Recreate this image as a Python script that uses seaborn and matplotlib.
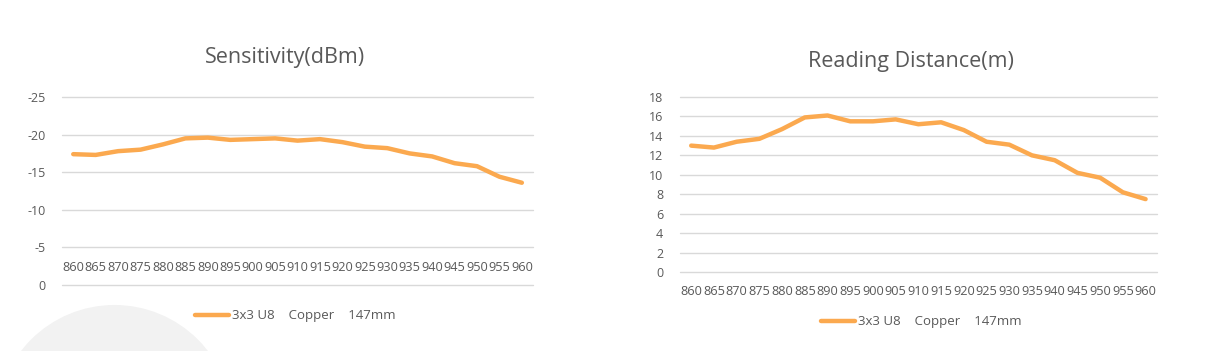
import numpy as np
import pandas as pd
import matplotlib
import matplotlib.pyplot as plt
import seaborn as sns
from matplotlib.patches import Ellipse

freq = ['860', '865', '870', '875', '880', '885', '890', '895', '900', '905', '910',
        '915', '920', '925', '930', '935', '940', '945', '950', '955', '960']
sensitivity = [-17.4, -17.3, -17.8, -18.0, -18.7, -19.5, -19.6, -19.3, -19.4, -19.5, -19.2,
               -19.4, -19.0, -18.4, -18.2, -17.5, -17.1, -16.2, -15.8, -14.4, -13.6]
distance = [13.0, 12.8, 13.4, 13.7, 14.7, 15.9, 16.1, 15.5, 15.5, 15.7, 15.2,
            15.4, 14.6, 13.4, 13.1, 12.0, 11.5, 10.2, 9.7, 8.2, 7.5]
series_name = '3x3 U8    Copper    147mm'

sns.set_style('white')
plt.rcParams['font.family'] = ['Open Sans', 'DejaVu Sans']
plt.rcParams['axes.unicode_minus'] = False

line_color = '#FBA94F'
text_color = '#595959'
grid_color = '#D9D9D9'

df = pd.DataFrame({'freq': freq, 'sens': sensitivity, 'dist': distance})

fig = plt.figure(figsize=(12.14, 3.51), dpi=100)

# faint decorative circle in the bottom-left corner
fig.patches.append(Ellipse((0.0943, -0.205), 2 * 118 / 1214, 2 * 118 / 351,
                           transform=fig.transFigure, facecolor='#F2F2F2',
                           edgecolor='none', zorder=0))

ax1 = fig.add_axes([0.0511, 0.188, 0.388, 0.5356])
ax2 = fig.add_axes([0.560, 0.225, 0.393, 0.4986])

sns.lineplot(data=df, x='freq', y='sens', ax=ax1, color=line_color, lw=3.2,
             sort=False, label=series_name)
sns.lineplot(data=df, x='freq', y='dist', ax=ax2, color=line_color, lw=3.2,
             sort=False, label=series_name)

ax1.set_ylim(0, -25)
ax1.set_yticks(np.arange(0, -26, -5))
ax2.set_ylim(0, 18)
ax2.set_yticks(np.arange(0, 19, 2))

for ax in (ax1, ax2):
    ax.patch.set_alpha(0)
    ax.set_xlim(-0.5, len(freq) - 0.5)
    ax.set_xlabel('')
    ax.set_ylabel('')
    for s in ax.spines.values():
        s.set_visible(False)
    ax.grid(axis='y', color=grid_color, lw=1)
    ax.grid(axis='x', visible=False)
    ax.set_axisbelow(True)
    ax.tick_params(axis='x', length=0, labelsize=9.2, colors=text_color)
    ax.tick_params(axis='y', length=0, labelsize=9, colors=text_color, pad=12)
    for gl in ax.get_ygridlines():
        gl.set_clip_on(False)

ax1.tick_params(axis='x', pad=-17)
ax2.tick_params(axis='x', pad=9)

fig.text(0.235, 0.835, 'Sensitivity(dBm)', ha='center', va='center',
         fontsize=15.5, color=text_color)
fig.text(0.750, 0.826, 'Reading Distance(m)', ha='center', va='center',
         fontsize=15.5, color=text_color)

for ax, xc, yc in ((ax1, 0.243, 0.100), (ax2, 0.759, 0.083)):
    ax.legend(loc='center', bbox_to_anchor=(xc, yc), bbox_transform=fig.transFigure,
              frameon=False, fontsize=9.5, labelcolor=text_color,
              handlelength=2.6, handletextpad=0.2)

plt.savefig('out.png', dpi=100)
